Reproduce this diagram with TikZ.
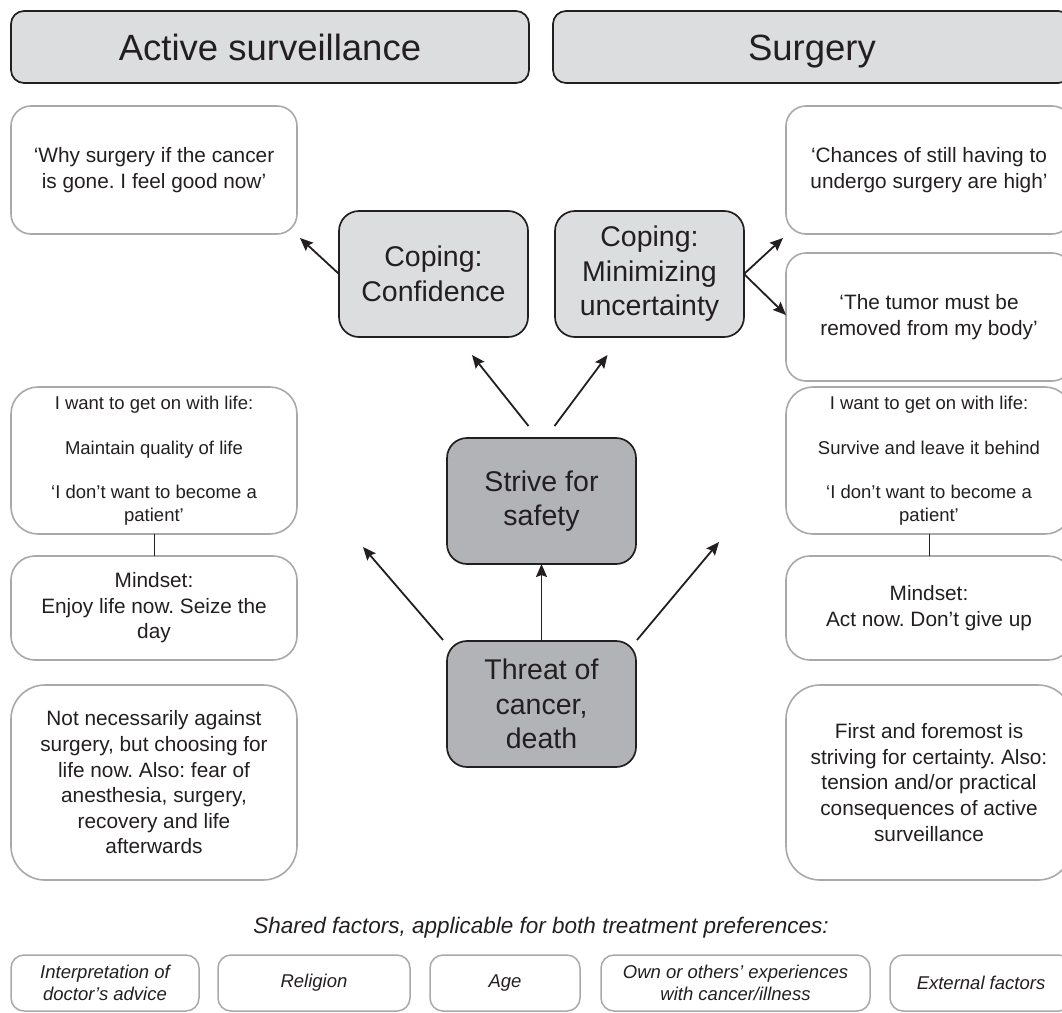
\documentclass[tikz,border=0pt]{standalone}
\usepackage{fontspec}
\setmainfont{Liberation Sans}
\usetikzlibrary{arrows.meta}
\definecolor{ink}{HTML}{231F20}
\definecolor{lightfill}{HTML}{DCDDDF}
\definecolor{darkfill}{HTML}{B1B3B6}
\definecolor{edgegray}{HTML}{A7A9AC}
\frenchspacing
\begin{document}
\begin{tikzpicture}[x=1pt,y=-1pt,
 every node/.style={inner sep=0pt, outer sep=0pt, align=center, text=ink},
 header/.style={draw=ink, line width=1.7pt, fill=lightfill, rounded corners=13pt, font=\fontsize{36.5}{40}\selectfont, minimum width=518pt, minimum height=72pt, text height=26pt, text depth=0pt},
 quotebox/.style={draw=edgegray, line width=1.6pt, fill=white, rounded corners=20pt, font=\fontsize{20.8}{25.6}\selectfont, minimum width=286pt},
 copebox/.style={draw=ink, line width=1.7pt, fill=lightfill, rounded corners=20pt, font=\fontsize{28.5}{34.5}\selectfont, minimum width=189pt, minimum height=126pt},
 corebox/.style={copebox, fill=darkfill},
 wantbox/.style={quotebox, rounded corners=27pt, font=\fontsize{18.5}{22.4}\selectfont},
 factor/.style={draw=edgegray, line width=1.5pt, fill=white, rounded corners=13pt, font=\itshape\fontsize{18.5}{22}\selectfont, minimum height=56pt},
 arr/.style={draw=ink, line width=1.8pt, -{Stealth[length=13pt,width=11pt,inset=2pt]}},
 link/.style={draw=ink, line width=1pt}
]
\useasboundingbox (0,0) rectangle (1062,1012);
\clip (0,0) rectangle (1062,1012);

% headers
\node[header] (hL) at (270,47) {Active surveillance};
\node[header] (hR) at (812,47) {Surgery};

% quote boxes
\node[quotebox, minimum height=128pt] (why) at (154,170) {‘Why surgery if the cancer\\is gone. I feel good now’};
\node[quotebox, minimum height=128pt] (chances) at (929,170) {‘Chances of still having to\\undergo surgery are high’};
\node[quotebox, minimum height=128pt] (tumor) at (929,317) {‘The tumor must be\\removed from my body’};

% coping boxes
\node[copebox] (conf) at (433.5,274) {Coping:\\Confidence};
\node[copebox] (minim) at (649.5,274) {Coping:\\Minimizing\\uncertainty};

% core boxes
\node[corebox] (strive) at (541.5,501) {Strive for\\safety};
\node[corebox] (threat) at (541.5,704) {Threat of\\cancer,\\death};

% want boxes
\node[wantbox, minimum height=147pt] (wantL) at (154,460.5) {I want to get on with life:\\[22.4pt]Maintain quality of life\\[22.4pt]‘I don’t want to become a\\patient’};
\node[wantbox, minimum height=147pt] (wantR) at (929,460.5) {I want to get on with life:\\[22.4pt]Survive and leave it behind\\[22.4pt]‘I don’t want to become a\\patient’};

% mindset boxes
\node[quotebox, rounded corners=24pt, minimum height=104pt] (mindL) at (154,608) {Mindset:\\Enjoy life now. Seize the\\day};
\node[quotebox, rounded corners=24pt, minimum height=104pt] (mindR) at (929,608) {Mindset:\\Act now. Don’t give up};

% explanation boxes
\node[quotebox, rounded corners=34pt, minimum height=195pt] (notnec) at (154,782.5) {Not necessarily against\\surgery, but choosing for\\life now. Also: fear of\\anesthesia, surgery,\\recovery and life\\afterwards};
\node[quotebox, rounded corners=34pt, minimum height=195pt] (first) at (929,782.5) {First and foremost is\\striving for certainty. Also:\\tension and/or practical\\consequences of active\\surveillance};

% shared factors
\node[font=\itshape\fontsize{22.5}{27}\selectfont] (shared) at (541,928) {Shared factors, applicable for both treatment preferences:};
\node[factor, minimum width=188pt] (f1) at (105,983) {Interpretation of\\doctor’s advice};
\node[factor, minimum width=192pt] (f2) at (314,983) {Religion};
\node[factor, minimum width=150pt] (f3) at (505,983) {Age};
\node[factor, minimum width=269pt] (f4) at (735.5,983) {Own or others’ experiences\\with cancer/illness};
\node[factor, minimum width=182pt] (f5) at (981,983) {External factors};

% connectors
\coordinate (tl) at (363,547);
\coordinate (tr) at (719,542);
\draw[arr] (threat) -- (strive);
\draw[arr] ([xshift=-4pt,yshift=1pt]threat.north west) -- (tl);
\draw[arr] ([xshift=1pt,yshift=1pt]threat.north east) -- (tr);
\draw[arr] ([xshift=-13pt,yshift=12pt]strive.north) -- ([xshift=38.5pt,yshift=-18pt]conf.south);
\draw[arr] ([xshift=13pt,yshift=12pt]strive.north) -- ([xshift=-42pt,yshift=-18pt]minim.south);
\draw[arr] (conf.west) -- ([xshift=3pt,yshift=-4pt]why.south east);
\draw[arr] (minim.east) -- ([xshift=-3pt,yshift=-4pt]chances.south west);
\draw[arr] (minim.east) -- ([yshift=2pt]tumor.west);
\draw[link] (wantL) -- (mindL);
\draw[link] (wantR) -- (mindR);
\end{tikzpicture}
\end{document}
